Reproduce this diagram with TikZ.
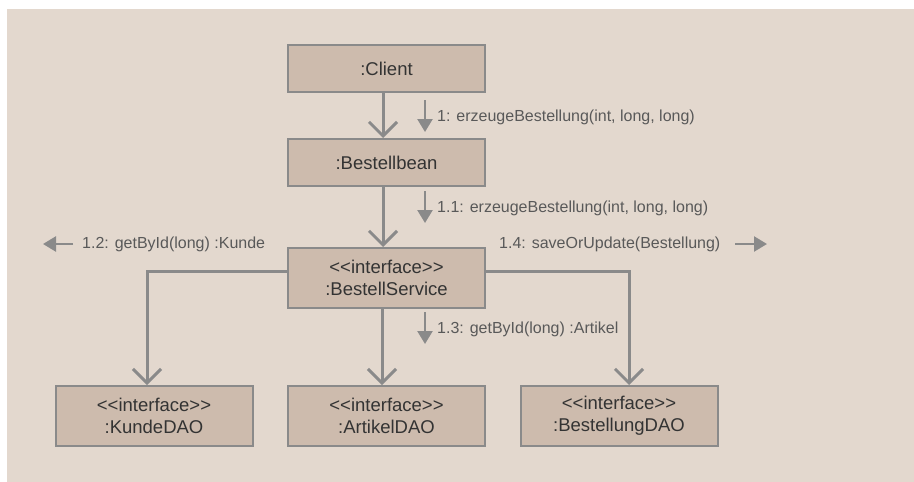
\documentclass[tikz,border=0pt]{standalone}
\usepackage{fontspec}
% a family without TeX ligatures, so that << and >> stay as typed
\newfontfamily\uifont{Liberation Sans}
\usetikzlibrary{arrows.meta}
\definecolor{bgc}{HTML}{E3D8CE}
\definecolor{boxc}{HTML}{CDBBAD}
\definecolor{linec}{HTML}{8A8A8A}
\definecolor{txtc}{HTML}{333333}
\definecolor{msgc}{HTML}{595959}
\begin{document}
\begin{tikzpicture}[x=1pt,y=-1pt,
  obj/.style={draw=linec, line width=2pt, fill=boxc, minimum width=197pt,
    inner sep=0pt, align=center, font=\uifont\fontsize{18.5}{22}\selectfont, text=txtc},
  link/.style={draw=linec, line width=3pt, -{Straight Barb[length=14pt,width=28pt]}},
  msg/.style={draw=linec, line width=2.5pt, -{Triangle[length=13pt,width=15pt]}},
  msgtext/.style={font=\uifont\fontsize{16}{19}\selectfont, text=msgc, anchor=west, inner sep=0pt}]
  % canvas and background panel
  \useasboundingbox (0,0) rectangle (914,482);
  \fill[bgc] (7,9) rectangle (914,482);

  % objects
  \node[obj, minimum height=47pt] (client) at (386.5,68.5) {:Client};
  \node[obj, minimum height=47pt] (bean) at (386.5,162.5) {:Bestellbean};
  \node[obj, minimum height=60pt] (svc) at (386.5,278) {<<interface>>\\:BestellService};
  \node[obj, minimum height=60pt] (kunde) at (154,416) {<<interface>>\\:KundeDAO};
  \node[obj, minimum height=60pt] (artikel) at (386.5,416) {<<interface>>\\:ArtikelDAO};
  \node[obj, minimum height=60pt] (bestdao) at (619,416) {<<interface>>\\:BestellungDAO};

  % links
  \draw[link] ([xshift=-3.5pt]client.south) -- ([xshift=-3.5pt]bean.north);
  \draw[link] ([xshift=-3.5pt]bean.south) -- ([xshift=-3.5pt]svc.north);
  \draw[link] ([yshift=7pt]svc.west) -| ([xshift=-7pt]kunde.north);
  \draw[link] ([xshift=-4.5pt]svc.south) -- ([xshift=-4.5pt]artikel.north);
  \draw[link] ([yshift=7pt]svc.east) -| ([xshift=10pt]bestdao.north);

  % messages
  \coordinate (m1a) at (425,100);  \coordinate (m1b) at (425,132);
  \draw[msg] (m1a) -- (m1b);
  \node[msgtext] (m1) at (437,117) {1: erzeugeBestellung(int, long, long)};

  \coordinate (m11a) at (425,191); \coordinate (m11b) at (425,223);
  \draw[msg] (m11a) -- (m11b);
  \node[msgtext] (m11) at (437,208) {1.1: erzeugeBestellung(int, long, long)};

  \coordinate (m12a) at (73,244);  \coordinate (m12b) at (43,244);
  \draw[msg] (m12a) -- (m12b);
  \node[msgtext] (m12) at (82,244) {1.2: getById(long) :Kunde};

  \coordinate (m13a) at (425,312); \coordinate (m13b) at (425,344);
  \draw[msg] (m13a) -- (m13b);
  \node[msgtext] (m13) at (437,329) {1.3: getById(long) :Artikel};

  \node[msgtext] (m14) at (499,244) {1.4: saveOrUpdate(Bestellung)};
  \coordinate (m14a) at (735,244); \coordinate (m14b) at (767,244);
  \draw[msg] (m14a) -- (m14b);
\end{tikzpicture}
\end{document}
